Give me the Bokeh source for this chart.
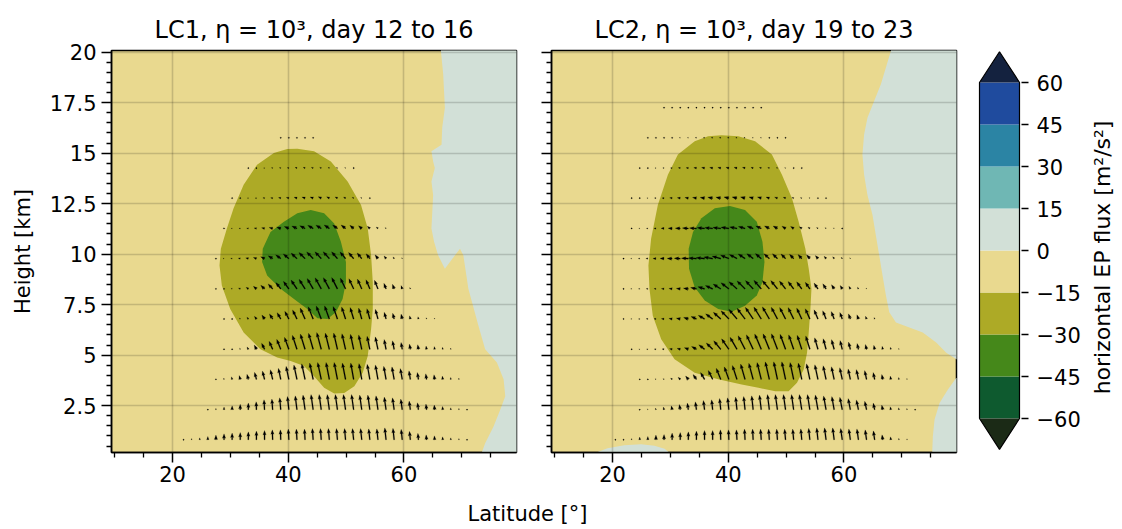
import numpy as np
from bokeh.plotting import figure
from bokeh.models import Range1d, FixedTicker, Label
from bokeh.layouts import row, column
from bokeh.embed import file_html
from bokeh.resources import INLINE

FONT = "DejaVu Sans"

# ---------------- colour scale ----------------
CB_LEVELS = [-60, -45, -30, -15, 0, 15, 30, 45, 60]
CB_LABELS = ["\u221260", "\u221245", "\u221230", "\u221215", "0", "15", "30", "45", "60"]
CB_COLORS = ["#0E5A2F", "#45881A", "#ADAA26", "#E9D98F", "#D2E0D7", "#6FB7B4", "#2B84A4", "#1F4B9E"]
CB_LOW = "#1B2A16"
CB_HIGH = "#14223F"
CB_TITLE = "horizontal EP flux  [m\u00b2/s\u00b2]"

TITLES = ["LC1, \u03b7 = 10\u00b3, day 12 to 16", "LC2, \u03b7 = 10\u00b3, day 19 to 23"]
X_LABEL = "Latitude [\u00b0]"
Y_LABEL = "Height [km]"

X_TICKS = [20, 40, 60]
X_MINOR = [10, 15, 25, 30, 35, 45, 50, 55, 65, 70, 75]
Y_TICKS = [2.5, 5, 7.5, 10, 12.5, 15, 17.5, 20]
Y_TICK_LABELS = ["2.5", "5", "7.5", "10", "12.5", "15", "17.5", "20"]
Y_MINOR = [0.5, 1, 1.5, 2, 3, 3.5, 4, 4.5, 5.5, 6, 6.5, 7, 8, 8.5, 9, 9.5, 10.5, 11, 11.5, 12,
           13, 13.5, 14, 14.5, 15.5, 16, 16.5, 17, 18, 18.5, 19, 19.5]

X_RANGE = (9.45, 79.45)
Y_RANGE = (0.18, 20.08)

# ---------------- contour regions (lat, km) ----------------
# LC1
LC1_POS_LAT = [66.3, 66.38, 66.78, 67.07, 66.61, 66.49, 64.75, 65.04, 65.33, 64.75, 65.04, 64.75, 65.2,
               65.9, 67.07, 69.68, 70.26, 71.13, 72.87, 74.03, 76.06, 77.22, 77.51, 76.64, 75.48, 74.03,
               72.6, 82, 82]
LC1_POS_KM = [21, 20.07, 18.91, 17.25, 16.25, 15.42, 15.09, 14.59, 14.26, 13.6, 12.93, 11.27, 10.61,
              9.94, 9.28, 10.27, 9.94, 8.28, 6.45, 5.29, 4.63, 3.8, 2.97, 2.3, 1.47, 0.64,
              -0.5, -0.5, 21]
LC1_M15_LAT = [41.57, 44.46, 47.36, 50.26, 52.58, 53.74, 54.32, 54.61, 54.61, 54.32, 53.74, 52.87, 51.42,
               49.68, 47.94, 46.2, 44.46, 42.72, 40.41, 38.09, 35.19, 32.29, 29.97, 28.52, 28.12, 28.35,
               29.39, 30.55, 32.29, 34.61, 37.51, 39.83]
LC1_M15_KM = [15.22, 15.09, 14.59, 13.6, 12.43, 11.27, 9.94, 8.61, 7.28, 6.29, 4.96, 4.13, 3.46,
              3.13, 3.1, 3.38, 3.96, 4.46, 4.71, 4.88, 5.29, 6.12, 7.28, 8.45, 9.44, 10.27,
              11.27, 12.27, 13.43, 14.43, 15.01, 15.21]
LC1_M30_LAT = [43.88, 46.2, 47.94, 49.1, 49.97, 49.97, 49.39, 48.23, 46.78, 45.04, 43.3, 40.99, 38.67,
               36.35, 35.48, 35.59, 36.93, 39.25, 41.57]
LC1_M30_KM = [12.18, 12.02, 11.52, 10.61, 9.61, 8.61, 7.78, 7.12, 6.79, 6.82, 7.28, 7.78, 8.28,
              8.94, 9.61, 10.27, 11.1, 11.6, 12.02]

# LC2
LC2_POS_LAT = [68.5, 68.12, 67.25, 66.38, 65.22, 64.06, 63.48, 63.19, 63.48, 64.06, 64.93, 65.51, 66.09,
               66.67, 67.25, 67.83, 68.99, 71.3, 73.62, 75.94, 77.68, 79.42, 82, 82]
LC2_POS_KM = [21, 20.07, 19.24, 18.41, 17.58, 16.75, 15.92, 14.93, 13.93, 12.93, 11.94, 10.94, 9.94,
              8.94, 7.95, 7.12, 6.62, 6.37, 6.12, 5.62, 5.12, 4.79, 4.7, 21]
LC2_POS2_LAT = [82, 79.42, 77.97, 76.52, 75.65, 75.36, 75.25, 75.2, 82]
LC2_POS2_KM = [3.9, 3.88, 3.3, 2.63, 1.8, 0.97, 0.17, -0.5, -0.5]
LC2_POS3_LAT = [16.8, 17.1, 19.13, 22.03, 24.93, 27.25, 28.99, 29.86, 30.1]
LC2_POS3_KM = [-0.5, 0.17, 0.39, 0.54, 0.59, 0.51, 0.37, 0.17, -0.5]
LC2_M15_LAT = [38.84, 41.74, 44.64, 47.54, 49.28, 51.01, 52.17, 53.33, 53.91, 54.38, 54.2, 53.91, 53.62,
               53.04, 51.88, 50.43, 48.12, 45.22, 42.32, 38.26, 34.2, 30.72, 28.41, 26.96, 26.38, 26.2,
               26.67, 27.83, 29.57, 31.3, 34.2, 36.52]
LC2_M15_KM = [15.89, 15.84, 15.59, 14.93, 13.93, 12.77, 11.6, 10.27, 9.28, 8.28, 7.28, 6.12, 5.12,
              4.29, 3.63, 3.21, 3.21, 3.38, 3.55, 3.8, 4.13, 4.79, 5.79, 6.95, 8.28, 9.44,
              10.77, 12.43, 13.93, 14.93, 15.59, 15.84]
LC2_M30_LAT = [40.29, 42.9, 44.93, 45.91, 46.26, 45.91, 44.93, 42.9, 40.58, 38.26, 35.94, 34.2, 33.22,
               33.16, 33.91, 35.36, 37.68]
LC2_M30_KM = [12.38, 12.18, 11.6, 10.61, 9.61, 8.61, 7.95, 7.45, 7.15, 7.28, 7.7, 8.36, 9.28,
              10.27, 11.1, 11.77, 12.27]

# ---------------- EP flux arrows ----------------
LAT0 = 20.5
DLAT = 1.40
# length in pixels, angle in degrees from vertical, positive = tilted equatorward
LC1_ROW_KM = [0.81, 2.30, 3.80, 5.29, 6.79, 8.28, 9.78, 11.27, 12.77, 14.26, 15.76]
LC1_ROW_I0 = [1, 4, 5, 6, 6, 5, 5, 6, 7, 9, 13]
LC1_LEN = [
    [0.3, 1.3, 2, 3.3, 4.7, 6, 6.7, 7.3, 8, 8.7, 9.3, 10, 10, 10.7, 10.7, 10.7, 11.3, 11.3, 11.3, 11.3,
     11.3, 11.3, 11.3, 11, 11, 12, 11.5, 10.5, 8.5, 6.5, 5, 4, 3, 2, 1.3, 0.7],
    [0.7, 1.3, 2.7, 4, 5.3, 6.7, 8, 10, 10.7, 12, 13.3, 14, 14.7, 15.3, 15.3, 15.3, 15.3, 15.3, 15.3,
     14.7, 14.7, 14, 12.7, 12, 10.7, 8.7, 7, 5.7, 4.7, 3.3, 2, 1.3, 0.7],
    [0.3, 1.3, 2.7, 4, 5.3, 7.3, 8.7, 10, 11.3, 13.3, 14.7, 16, 16.7, 17.3, 17.3, 17.3, 16.7, 16.7, 16,
     15.3, 14.7, 13.3, 12.7, 11, 8.7, 7, 5.7, 4.7, 3.3, 2, 1.3],
    [0.3, 0.7, 1.3, 2.7, 4.7, 6.7, 8.7, 10.7, 12.7, 14.7, 16, 16.7, 17.3, 16.7, 16.7, 16, 15.3, 14.7,
     13.3, 12.7, 10, 8.7, 7, 5.3, 4.7, 3.3, 2.7, 2, 1.3],
    [0.3, 0.7, 1.3, 2.3, 3.3, 4.7, 6, 7.3, 8.7, 10, 12, 13.3, 14, 14, 13.3, 12.7, 12, 11.3, 10.7, 10,
     7, 6, 5, 3.3, 2.3, 1.3, 1],
    [0.3, 0.7, 1.3, 2, 2.7, 4, 5.3, 6.7, 8, 9.3, 10.7, 11.3, 12, 12.7, 12.7, 12.7, 12, 11.3, 10.7, 10,
     9.3, 6, 5, 3.5, 1.5],
    [0.5, 1, 1.5, 2, 2.7, 3.3, 4.3, 5.3, 6.3, 7.3, 8, 8.7, 9.3, 9.3, 9.3, 9, 8.7, 8, 7.3, 6, 4.7, 3.3,
     2, 1],
    [0.5, 1, 1.3, 1.7, 2.3, 3, 3.7, 4.3, 5, 5.7, 6, 6.3, 6.3, 6.3, 6, 5.7, 5, 4.3, 3.3, 2.3, 1.3],
    [0.5, 0.7, 1, 1.3, 1.7, 2, 2.3, 2.7, 3, 3.3, 3.3, 3.3, 3, 2.7, 2.3, 1.7, 1.3, 0.7],
    [0.5, 0.7, 1, 1.3, 1.5, 1.7, 2, 2, 2, 1.7, 1.5, 1.3, 1, 0.7],
    [0.5, 0.5, 0.5, 0.5, 0.5],
]
LC1_ANG = [
    [0, 0, 0, 0, 0, 0, 0, 0, 0, 0, 0, 2, 2, 3, 3, 3, 4, 4, 5, 5, 5, 6, 6, 6, 6, 6, 6, 6, 6, 5, 5, 4, 3, 2,
     0, 0],
    [0, 0, 0, 0, 0, 0, 2, 3, 4, 5, 6, 7, 8, 8, 8, 8, 8, 8, 8, 8, 8, 8, 8, 8, 8, 8, 8, 6, 5, 4, 3, 0, 0],
    [10, 12, 14, 15, 15, 15, 14, 13, 12, 12, 12, 12, 12, 12, 11, 11, 11, 10, 10, 10, 10, 10, 10, 10, 9,
     9, 8, 8, 7, 6, 5],
    [30, 30, 30, 30, 28, 26, 24, 22, 20, 18, 17, 16, 15, 14, 13, 13, 12, 12, 12, 12, 11, 11, 10, 10, 9,
     9, 8, 8, 8],
    [45, 45, 42, 40, 38, 35, 32, 30, 28, 26, 24, 22, 21, 20, 19, 18, 17, 16, 16, 15, 15, 14, 14, 13, 12,
     12, 12],
    [75, 72, 68, 62, 56, 50, 46, 42, 38, 36, 34, 32, 30, 29, 28, 27, 26, 25, 24, 23, 22, 21, 20, 20, 20],
    [85, 85, 82, 80, 76, 70, 64, 58, 54, 50, 47, 45, 44, 43, 42, 41, 40, 40, 39, 38, 38, 37, 36, 35],
    [88, 86, 84, 82, 80, 78, 75, 72, 68, 65, 62, 60, 58, 56, 54, 52, 50, 50, 50, 50, 50],
    [88, 86, 84, 82, 80, 78, 76, 74, 72, 70, 68, 66, 64, 62, 60, 60, 60, 60],
    [85, 84, 82, 80, 78, 76, 74, 72, 70, 68, 66, 64, 62, 60],
    [85, 85, 85, 85, 85],
]

LC2_ROW_KM = [0.81, 2.30, 3.80, 5.29, 6.79, 8.28, 9.78, 11.27, 12.77, 14.26, 15.76, 17.25]
LC2_ROW_I0 = [0, 3, 3, 2, 1, 1, 1, 2, 2, 3, 4, 6]
LC2_LEN = [
    [0.3, 0.7, 1.3, 2.7, 3.3, 4.7, 5.3, 6.7, 7.3, 8, 8.7, 9.3, 9.3, 10, 10, 10, 10.7, 10.7, 10.7, 10.7,
     10.7, 10.7, 10.7, 11, 11.5, 12, 12, 12, 11.5, 11, 11, 10, 9, 5, 3, 1.5, 1],
    [0.7, 1, 1.7, 2.7, 4, 5.3, 6.7, 8, 9.3, 10, 11.3, 12, 12.7, 13.3, 14, 14.7, 15.3, 15.3, 15.3, 15.3,
     15.3, 15.3, 15, 14, 13.3, 12.7, 11.3, 10, 8.7, 6.7, 4.7, 3, 2, 1.3, 0.7],
    [0.3, 0.7, 1, 1.3, 2, 3, 4.3, 6, 8, 10, 12, 13.3, 14.7, 16, 16.7, 17.3, 18, 18, 18, 17.3, 16.7, 16,
     15, 14, 13, 12, 10.7, 10, 9, 7, 5, 3.3, 2, 1],
    [0.7, 1, 1.3, 1.7, 2, 2.7, 3.3, 4.3, 5.7, 7.3, 9, 11, 12.7, 14, 15.3, 16, 16.7, 16.7, 16.7, 16, 15.3,
     14.7, 14, 12, 11, 10, 9, 7.5, 6, 5, 4, 3, 2, 1],
    [0.7, 1, 1.3, 1.7, 2, 2.7, 3.3, 4, 5, 6, 7.3, 8.7, 10, 11.3, 12.7, 13.3, 14, 14, 14, 13.3, 13, 12.7,
     12, 11.3, 10, 9, 8, 7, 5.5, 4.5, 3, 1.5],
    [0.7, 1, 1.3, 1.7, 2, 2.7, 3.3, 4, 5, 6, 7, 8, 9, 10, 10.7, 11.3, 11.3, 11.3, 11, 10.7, 10, 9.3,
     8.7, 8, 7, 6, 5, 4, 3, 2, 1],
    [0.7, 1, 1.5, 2, 3, 4, 5, 6, 7, 8, 8.5, 9, 9, 9, 8.7, 8.3, 8, 7.7, 7.3, 7, 6.5, 6, 5.5, 5, 4, 3, 2.3,
     1.7, 1],
    [0.7, 1, 1.5, 2, 3, 4, 5, 6, 7, 7.5, 8, 8, 8, 7.5, 7, 6.5, 6, 5.5, 5, 4.3, 3.7, 3, 2.3, 1.7, 1.3, 1,
     0.7],
    [0.5, 0.7, 1, 1.5, 2, 2.5, 3, 3.5, 4, 4.5, 5, 5, 5, 5, 4.7, 4.3, 4, 3.5, 3, 2.5, 2, 1.5, 1, 0.7, 0.5],
    [0.5, 0.7, 1, 1.3, 1.7, 2, 2.3, 2.7, 3, 3, 3, 3, 3, 2.7, 2.3, 2, 1.7, 1.3, 1, 0.7, 0.5],
    [0.5, 0.5, 0.7, 0.7, 1, 1, 1.3, 1.3, 1.5, 1.5, 1.5, 1.3, 1.3, 1, 1, 0.7, 0.7, 0.5],
    [0.6, 0.6, 0.6, 0.6, 0.6, 0.6, 0.6, 0.6, 0.6, 0.6, 0.6, 0.6, 0.6],
]
LC2_ANG = [
    [0, 0, 0, 0, 0, 0, 0, 0, 0, 0, 0, 0, 0, 2, 2, 3, 3, 3, 4, 4, 4, 5, 5, 5, 6, 6, 7, 7, 8, 8, 8, 8, 8,
     8, 6, 4, 0],
    [20, 18, 16, 14, 12, 10, 9, 8, 7, 6, 6, 6, 6, 6, 6, 7, 7, 8, 8, 8, 9, 9, 10, 10, 10, 11, 11, 12, 12,
     12, 12, 12, 10, 8, 5],
    [70, 65, 60, 55, 50, 45, 40, 35, 30, 26, 22, 20, 18, 16, 15, 14, 13, 12, 12, 12, 12, 12, 12, 12, 12,
     12, 12, 12, 12, 12, 11, 10, 9, 8],
    [85, 85, 84, 83, 82, 80, 75, 68, 60, 52, 45, 40, 35, 30, 27, 25, 23, 22, 21, 20, 19, 18, 17, 16, 15,
     15, 14, 14, 13, 13, 12, 12, 12, 12],
    [88, 88, 87, 86, 85, 84, 82, 78, 72, 66, 60, 54, 48, 44, 40, 37, 34, 32, 30, 28, 27, 26, 25, 24, 23,
     22, 21, 20, 20, 20, 20, 20],
    [88, 88, 88, 87, 86, 85, 84, 83, 82, 78, 72, 66, 58, 52, 48, 45, 43, 41, 40, 39, 38, 37, 36, 35, 34,
     33, 32, 31, 30, 30, 30],
    [89, 89, 89, 89, 88, 88, 88, 88, 87, 86, 84, 80, 75, 68, 62, 56, 52, 50, 48, 46, 45, 44, 43, 42, 41,
     40, 40, 40, 40],
    [88, 88, 88, 88, 88, 87, 87, 86, 86, 85, 84, 83, 82, 78, 74, 70, 66, 62, 60, 58, 56, 55, 55, 55, 55,
     55, 55],
    [85, 85, 85, 84, 84, 83, 82, 81, 80, 80, 79, 78, 77, 76, 75, 74, 73, 72, 71, 70, 70, 70, 70, 70, 70],
    [85, 85, 85, 84, 84, 83, 82, 81, 80, 80, 79, 78, 77, 76, 75, 74, 73, 72, 71, 70, 70],
    [88, 88, 88, 88, 88, 88, 88, 88, 88, 88, 88, 88, 88, 88, 88, 88, 88, 88],
    [88, 88, 88, 88, 88, 88, 88, 88, 88, 88, 88, 88, 88],
]

# ---------------- geometry / style ----------------
FRAME_W, FRAME_H = 405, 402
PX_DEG = FRAME_W / (X_RANGE[1] - X_RANGE[0])
PX_KM = FRAME_H / (Y_RANGE[1] - Y_RANGE[0])
SHAFT_W, HEAD_W, HEAD_L, HEAD_AX = 1.15, 3.3, 4.5, 4.0
DOT_LEN, DOT_R = 0.9, 0.7
HEX = [(np.cos(t), np.sin(t)) for t in np.arange(6) * np.pi / 3]
TICK_FONT = "21px"
TOP_B, BOT_B = 50, 40
FIG_H = TOP_B + FRAME_H + BOT_B


def arrow_shapes(row_km, row_i0, row_len, row_ang):
    xs, ys = [], []
    for km, i0, lens, angs in zip(row_km, row_i0, row_len, row_ang):
        for k, (L, a) in enumerate(zip(lens, angs)):
            lat = LAT0 + (i0 + k) * DLAT
            t = np.radians(a)
            ux, uy = -np.sin(t), np.cos(t)
            vx, vy = -uy, ux
            if L < DOT_LEN:
                loc = [(DOT_R * c, DOT_R * s) for c, s in HEX]
            else:
                Lf = max(L, HEAD_L)
                sc = L / Lf
                loc = [(0, -SHAFT_W / 2), (Lf - HEAD_AX, -SHAFT_W / 2), (Lf - HEAD_L, -HEAD_W / 2),
                       (Lf, 0), (Lf - HEAD_L, HEAD_W / 2), (Lf - HEAD_AX, SHAFT_W / 2), (0, SHAFT_W / 2)]
                loc = [(p * sc, q * sc) for p, q in loc]
            xs.append([lat + (p * ux + q * vx) / PX_DEG for p, q in loc])
            ys.append([km + (p * uy + q * vy) / PX_KM for p, q in loc])
    return xs, ys


def make_panel(title, pos_regions, m15, m30, arrows, first, border_left, border_right):
    p = figure(frame_width=FRAME_W, frame_height=FRAME_H,
               x_range=Range1d(*X_RANGE), y_range=Range1d(*Y_RANGE),
               output_backend="svg", toolbar_location=None,
               min_border_left=border_left, min_border_right=border_right,
               min_border_top=TOP_B, min_border_bottom=BOT_B)
    p.background_fill_color = CB_COLORS[3]
    p.border_fill_color = "white"
    p.outline_line_color = "black"
    p.outline_line_width = 1.5

    p.title.text = title
    p.title.text_font = FONT
    p.title.text_font_size = "24px"
    p.title.text_font_style = "normal"
    p.title.text_color = "black"
    p.title.align = "center"
    p.title.standoff = 13

    for lat, km in pos_regions:
        p.patch(lat, km, fill_color=CB_COLORS[4], line_color=None, level="image")
    p.patch(m15[0], m15[1], fill_color=CB_COLORS[2], line_color=None, level="image")
    p.patch(m30[0], m30[1], fill_color=CB_COLORS[1], line_color=None, level="image")

    p.xgrid.ticker = FixedTicker(ticks=X_TICKS)
    p.ygrid.ticker = FixedTicker(ticks=Y_TICKS)
    for g in (p.xgrid, p.ygrid):
        g.grid_line_color = "black"
        g.grid_line_alpha = 0.16
        g.grid_line_width = 1.6
        g.level = "underlay"

    ax_x, ax_y = arrows
    p.patches(ax_x, ax_y, fill_color="black", line_color="black", line_width=0.2)

    p.xaxis.ticker = FixedTicker(ticks=X_TICKS, minor_ticks=X_MINOR)
    p.yaxis.ticker = FixedTicker(ticks=Y_TICKS, minor_ticks=Y_MINOR)
    for ax in (p.xaxis, p.yaxis):
        ax.major_tick_out = 10
        ax.major_tick_in = 0
        ax.minor_tick_out = 5
        ax.minor_tick_in = 0
        ax.major_tick_line_width = 1.5
        ax.minor_tick_line_width = 1.3
        ax.axis_line_width = 1.5
        ax.major_label_text_font = FONT
        ax.major_label_text_font_size = TICK_FONT
        ax.major_label_text_color = "black"
    p.xaxis.major_label_standoff = 3
    if first:
        p.yaxis.major_label_overrides = dict(zip(Y_TICKS, Y_TICK_LABELS))
        p.yaxis.major_label_standoff = 5
        p.yaxis.axis_label = Y_LABEL
        p.yaxis.axis_label_text_font = FONT
        p.yaxis.axis_label_text_font_size = TICK_FONT
        p.yaxis.axis_label_text_font_style = "normal"
        p.yaxis.axis_label_text_color = "black"
        p.yaxis.axis_label_standoff = 12
    else:
        p.yaxis.major_label_overrides = {t: "" for t in Y_TICKS}
        p.yaxis.major_label_standoff = 0
    return p


p1 = make_panel(TITLES[0], [(LC1_POS_LAT, LC1_POS_KM)], (LC1_M15_LAT, LC1_M15_KM),
                (LC1_M30_LAT, LC1_M30_KM), arrow_shapes(LC1_ROW_KM, LC1_ROW_I0, LC1_LEN, LC1_ANG),
                True, 111, 21)
p2 = make_panel(TITLES[1], [(LC2_POS_LAT, LC2_POS_KM), (LC2_POS2_LAT, LC2_POS2_KM),
                            (LC2_POS3_LAT, LC2_POS3_KM)],
                (LC2_M15_LAT, LC2_M15_KM), (LC2_M30_LAT, LC2_M30_KM),
                arrow_shapes(LC2_ROW_KM, LC2_ROW_I0, LC2_LEN, LC2_ANG), False, 14, 11)

# ---------------- colour bar ----------------
CB_EXT = 11
cb = figure(frame_width=44, frame_height=FRAME_H, x_range=Range1d(-0.05, 1.05),
            y_range=Range1d(-72.14, 71.43), output_backend="svg", toolbar_location=None,
            x_axis_location=None, y_axis_location="right",
            min_border_left=10, min_border_right=62, min_border_top=TOP_B, min_border_bottom=BOT_B)
cb.outline_line_color = None
cb.xgrid.visible = False
cb.ygrid.visible = False
cb.quad(left=0, right=1, bottom=CB_LEVELS[:-1], top=CB_LEVELS[1:], fill_color=CB_COLORS,
        line_color=None)
cb.patch([0, 0.5, 1], [CB_LEVELS[-1], CB_LEVELS[-1] + CB_EXT, CB_LEVELS[-1]], fill_color=CB_HIGH,
         line_color=None)
cb.patch([0, 0.5, 1], [CB_LEVELS[0], CB_LEVELS[0] - CB_EXT, CB_LEVELS[0]], fill_color=CB_LOW,
         line_color=None)
cb.line([0, 0, 0.5, 1, 1, 0.5, 0],
        [CB_LEVELS[0], CB_LEVELS[-1], CB_LEVELS[-1] + CB_EXT, CB_LEVELS[-1], CB_LEVELS[0],
         CB_LEVELS[0] - CB_EXT, CB_LEVELS[0]], line_color="black", line_width=1.2)
ya = cb.yaxis[0]
ya.ticker = FixedTicker(ticks=CB_LEVELS, minor_ticks=[])
ya.major_label_overrides = dict(zip(CB_LEVELS, CB_LABELS))
ya.axis_line_color = None
ya.major_tick_out = 7
ya.major_tick_in = 0
ya.minor_tick_out = 0
ya.major_tick_line_width = 1.3
ya.major_label_standoff = 8
ya.major_label_text_font = FONT
ya.major_label_text_font_size = TICK_FONT
ya.major_label_text_color = "black"

# colour-bar title in its own narrow canvas (reads bottom to top)
CBT_W = 36
cbt = figure(width=CBT_W, height=FIG_H, x_range=Range1d(0, CBT_W), y_range=Range1d(0, FIG_H),
             output_backend="svg", toolbar_location=None, x_axis_location=None,
             y_axis_location=None, min_border=0)
cbt.outline_line_color = None
cbt.xgrid.visible = False
cbt.ygrid.visible = False
cbt.add_layout(Label(x=19, y=FIG_H - 249, text=CB_TITLE, angle=np.pi / 2,
                     text_align="center", text_baseline="middle", text_font=FONT,
                     text_font_size="22px", text_color="black"))

# ---------------- shared x label ----------------
STRIP_H = 35
strip = figure(width=1114, height=STRIP_H, x_range=Range1d(0, 1114), y_range=Range1d(0, STRIP_H),
               output_backend="svg", toolbar_location=None, x_axis_location=None,
               y_axis_location=None, min_border=0)
strip.outline_line_color = None
strip.xgrid.visible = False
strip.ygrid.visible = False
strip.add_layout(Label(x=527, y=14, text=X_LABEL, text_align="center", text_baseline="middle",
                       text_font=FONT, text_font_size=TICK_FONT, text_color="black"))

layout = column(row(p1, p2, cb, cbt), strip)
open("out.html", "w").write(file_html(layout, INLINE))
